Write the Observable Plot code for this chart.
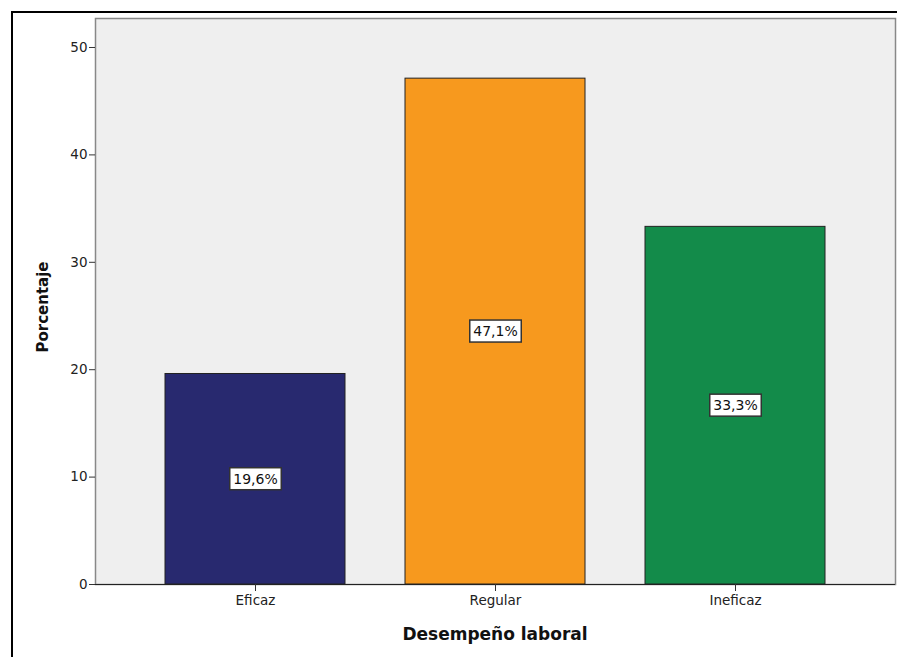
<!DOCTYPE html>
<html><head><meta charset="utf-8">
<script src="https://cdn.jsdelivr.net/npm/d3@7"></script>
<script src="https://cdn.jsdelivr.net/npm/@observablehq/plot@0.6"></script>
<style>
body{margin:0;background:#fff;}
#wrap{position:relative;width:897px;height:657px;overflow:hidden;}
#border{position:absolute;left:11px;top:11px;width:900px;height:700px;border-left:2px solid #000;border-top:2px solid #000;}
#chart{position:absolute;left:0;top:0;}
</style></head><body><div id="wrap"><div id="border"></div><div id="chart"></div></div>
<script>
const categories = ["Eficaz", "Regular", "Ineficaz"];
const percentages = [19.6, 47.1, 33.3];
const colors = ["#28296f", "#f7991e", "#138b4a"];
const yTicks = [0, 10, 20, 30, 40, 50];
const xTitle = "Desempeño laboral";
const yTitle = "Porcentaje";

const data = categories.map((c, i) => ({
  category: c,
  value: percentages[i],
  label: percentages[i].toFixed(1).replace(".", ",") + "%"
}));

const chart = Plot.plot({
  width: 897, height: 657,
  marginLeft: 95, marginTop: 18, marginRight: 2, marginBottom: 73,
  style: {fontFamily: "DejaVu Sans", fontSize: "13.5px", color: "#222", background: "transparent"},
  x: {domain: categories, paddingInner: 0.25, paddingOuter: 0.29, label: null},
  y: {domain: [0, 52.7], label: null},
  color: {domain: categories, range: colors},
  marks: [
    Plot.frame({fill: "#efefef", stroke: "#888", strokeWidth: 1.5}),
    Plot.barY(data, {x: "category", y: "value", fill: "category", stroke: "#222", strokeWidth: 1}),
    Plot.ruleY([0], {stroke: "#222", strokeWidth: 1.2}),
    Plot.ruleX([0], {frameAnchor: "left", stroke: "#555"}),
    Plot.axisY({ticks: yTicks, tickSize: 6, tickPadding: 2, label: null, stroke: "#333"}),
    Plot.axisX({tickSize: 7, tickPadding: 4, label: null, stroke: "#333"}),
    Plot.text(data, {x: "category", y: d => d.value / 2, text: "label", fill: "#111", fontSize: 14, className: "vlabel"})
  ]
});
document.getElementById("chart").appendChild(chart);

const svg = d3.select(chart);
// white label boxes behind value texts
svg.selectAll(".vlabel text").each(function() {
  const b = this.getBBox();
  const r = d3.select(this.parentNode).insert("rect", () => this)
    .attr("x", b.x - 3.5).attr("y", b.y - 3)
    .attr("width", b.width + 7).attr("height", b.height + 6)
    .attr("fill", "#fff").attr("stroke", "#333").attr("stroke-width", 1.5);
  const t = this.getAttribute("transform");
  if (t) r.attr("transform", t);
});
// axis titles
svg.append("text").text(xTitle)
  .attr("x", 495).attr("y", 640).attr("text-anchor", "middle")
  .attr("font-family", "DejaVu Sans").attr("font-weight", "bold").attr("font-size", 17).attr("fill", "#111");
svg.append("text").text(yTitle)
  .attr("transform", "translate(48,307) rotate(-90)").attr("text-anchor", "middle")
  .attr("font-family", "DejaVu Sans").attr("font-weight", "bold").attr("font-size", 15).attr("fill", "#111");
</script></body></html>
